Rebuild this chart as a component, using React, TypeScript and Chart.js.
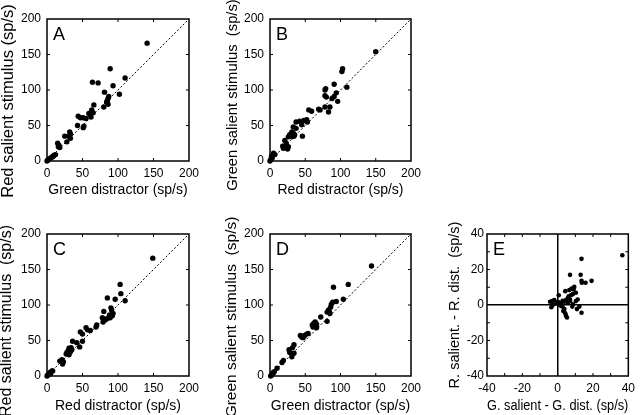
import React, { useEffect, useRef } from "react";
import { Chart, registerables } from "chart.js";

Chart.register(...registerables);

// ---------- DATA ----------
// Panel A: Green distractor (x) vs Red salient stimulus (y)
const A_X = [141, 89, 110, 64, 72, 93, 81, 102, 87, 86, 85, 84, 86, 80, 66, 63, 65, 59, 61, 62, 44, 47, 51, 55, 52, 51, 43, 32, 33, 31, 25, 33, 28, 15, 17, 18, 16, 10, 8, 6, 3, 1, 2, 4, 0, 12, 9];
const A_Y = [166, 130, 117, 111, 110, 106, 97, 94, 91, 88, 85, 83, 80, 76, 79, 72, 68, 67, 65, 62, 63, 61, 61, 60, 49, 47, 50, 41, 38, 35, 35, 32, 27, 25, 22, 19, 20, 8, 6, 5, 3, 1, 2, 3, 0, 9, 7];

// Panel B: Red distractor (x) vs Green salient stimulus (y)
const B_X = [150, 103, 102, 109, 91, 79, 78, 78, 80, 94, 91, 88, 96, 78, 85, 83, 69, 71, 55, 59, 37, 42, 48, 52, 53, 45, 46, 33, 37, 31, 33, 35, 31, 34, 26, 28, 21, 23, 26, 25, 21, 18, 19, 5, 7, 2, 1, 3, 0, 4];
const B_Y = [154, 130, 126, 104, 108, 102, 100, 92, 90, 96, 91, 88, 84, 76, 76, 69, 73, 72, 72, 70, 55, 56, 57, 58, 55, 51, 35, 48, 46, 41, 39, 37, 34, 35, 34, 37, 29, 25, 20, 17, 19, 21, 18, 11, 9, 6, 2, 4, 0, 8];

// Panel C: Red distractor (x) vs Red salient stimulus (y)
const C_X = [149, 103, 104, 110, 96, 85, 80, 90, 91, 93, 92, 89, 85, 78, 82, 79, 70, 69, 55, 57, 61, 47, 50, 50, 46, 36, 42, 34, 35, 30, 33, 28, 31, 27, 21, 23, 18, 22, 7, 5, 2, 4, 8, 0, 1, 31, 88];
const C_Y = [166, 129, 116, 106, 108, 110, 91, 96, 93, 88, 85, 82, 81, 82, 79, 76, 72, 69, 68, 65, 64, 62, 59, 49, 41, 49, 47, 40, 37, 36, 34, 33, 39, 31, 23, 20, 21, 17, 7, 3, 2, 5, 7, 0, 1, 30, 86];

// Panel D: Green distractor (x) vs Green salient stimulus (y)
const D_X = [144, 111, 90, 104, 94, 89, 87, 86, 83, 81, 84, 72, 81, 64, 62, 66, 63, 61, 66, 54, 52, 49, 45, 43, 34, 32, 27, 28, 31, 34, 19, 17, 10, 6, 4, 3, 5, 2, 1, 85, 47, 60];
const D_Y = [155, 129, 125, 108, 105, 104, 101, 97, 93, 90, 91, 83, 77, 76, 74, 73, 71, 69, 68, 60, 59, 57, 55, 57, 44, 40, 37, 33, 27, 32, 22, 19, 11, 6, 4, 2, 5, 1, 0, 88, 54, 72];

// Panel E: G. salient - G. dist. (x) vs R. salient - R. dist. (y)
const E_X = [36.6, 13.5, 7, 13, 13.5, 13.7, 15.8, 19.2, 9.4, 7.9, 6.6, 9, 4.3, 10.3, 7.5, 6.2, 8.6, 11.3, 10.3, 7, 5.6, 4.7, 3.8, 2.8, 0.6, -1.9, -3.2, -4.3, 0.1, 1.4, 2, -0.9, -2.8, -3.6, 2.8, 3.8, 3.2, 4.3, 4.7, 5.3, 8.6, 8.3, 10.9, 12.3, 13.5, 1.1, 2, 5.8, 7];
const E_Y = [28, 26, 17, 17, 13.6, 12.5, 12.5, 13.6, 10.2, 9.3, 8.4, 8.8, 7.8, 6.9, 5.5, 4.9, 6.1, 3.1, 2.2, 3.1, 3.7, 2.8, 1.8, 2.4, 5.5, 2.8, 2.2, 1.8, 1.8, 1.3, 0.9, 0.9, 0, -1.3, -1, -2.3, -3.4, -4.7, -6, -7, 0.4, -0.9, -2.3, -0.9, -4.4, 0, -0.6, 1.3, 2.2];

// Reference diagonal (identity line) endpoints
const DIAG = [0, 200];

// Tick labels
const TICKS_AD = [0, 50, 100, 150, 200];
const TICKS_E = [-40, -20, 0, 20, 40];
// Inward tick marks
const MARKS_AD = [50, 100, 150];
const MARKS_E = [-30, -20, -10, 10, 20, 30];

const FONT = '"Liberation Sans", Arial, Helvetica, sans-serif';

// ---------- PANELS (layout separate from data) ----------
type PanelCfg = {
  letter: string;
  xs: number[];
  ys: number[];
  xTitle: string;
  yTitle: string;
  min: number;
  max: number;
  ticks: number[];
  marks: number[];
  diag: boolean;
  zeroLines: boolean;
  r: number;
  box: [number, number, number, number];
  yAxisW: number;
  xAxisH: number;
  padR: number;
  padT: number;
  xTitlePad: number;
  yTickPad: number;
  yTitlePos: [number, number];
  yTitleSize: number;
};

const PANELS: PanelCfg[] = [
  {
    letter: "A", xs: A_X, ys: A_Y,
    xTitle: "Green distractor (sp/s)", yTitle: "Red salient stimulus (sp/s)",
    min: 0, max: 200, ticks: TICKS_AD, marks: MARKS_AD, diag: true, zeroLines: false, r: 2.7,
    box: [0, 0, 215, 209], yAxisW: 47, xAxisH: 48, padR: 26, padT: 19, xTitlePad: 10, yTickPad: 6,
    yTitlePos: [8, 101], yTitleSize: 16.5,
  },
  {
    letter: "B", xs: B_X, ys: B_Y,
    xTitle: "Red distractor (sp/s)", yTitle: "Green salient stimulus  (sp/s)",
    min: 0, max: 200, ticks: TICKS_AD, marks: MARKS_AD, diag: true, zeroLines: false, r: 2.7,
    box: [215, 0, 215, 209], yAxisW: 55, xAxisH: 48, padR: 19, padT: 19, xTitlePad: 10, yTickPad: 6,
    yTitlePos: [18, 95], yTitleSize: 14.8,
  },
  {
    letter: "C", xs: C_X, ys: C_Y,
    xTitle: "Red distractor (sp/s)", yTitle: "Red salient stimulus  (sp/s)",
    min: 0, max: 200, ticks: TICKS_AD, marks: MARKS_AD, diag: true, zeroLines: false, r: 2.7,
    box: [0, 209, 215, 206], yAxisW: 47, xAxisH: 39, padR: 26, padT: 25, xTitlePad: 0, yTickPad: 6,
    yTitlePos: [7, 112], yTitleSize: 16,
  },
  {
    letter: "D", xs: D_X, ys: D_Y,
    xTitle: "Green distractor (sp/s)", yTitle: "Green salient stimulus  (sp/s)",
    min: 0, max: 200, ticks: TICKS_AD, marks: MARKS_AD, diag: true, zeroLines: false, r: 2.7,
    box: [215, 209, 215, 206], yAxisW: 55, xAxisH: 39, padR: 19, padT: 25, xTitlePad: 0, yTickPad: 6,
    yTitlePos: [17, 108], yTitleSize: 15.5,
  },
  {
    letter: "E", xs: E_X, ys: E_Y,
    xTitle: "G. salient - G. dist. (sp/s)", yTitle: "R. salient. - R. dist.  (sp/s)",
    min: -40, max: 40, ticks: TICKS_E, marks: MARKS_E, diag: false, zeroLines: true, r: 2.3,
    box: [430, 209, 210, 206], yAxisW: 57, xAxisH: 39, padR: 11, padT: 25, xTitlePad: 0, yTickPad: 3,
    yTitlePos: [25, 96], yTitleSize: 14.5,
  },
];

// ---------- PLUGIN: frame, inward ticks, panel letter, y title ----------
const panelDeco = {
  id: "panelDeco",
  afterDatasetsDraw(chart: any, _args: any, opts: any) {
    const { ctx, chartArea: a } = chart;
    const xs = chart.scales.x;
    const ys = chart.scales.y;
    const L = 3;
    ctx.save();
    ctx.strokeStyle = "#000";
    ctx.lineWidth = 1;
    ctx.beginPath();
    for (const v of opts.marks as number[]) {
      const px = xs.getPixelForValue(v);
      ctx.moveTo(px, a.bottom);
      ctx.lineTo(px, a.bottom - L);
      ctx.moveTo(px, a.top);
      ctx.lineTo(px, a.top + L);
      const py = ys.getPixelForValue(v);
      ctx.moveTo(a.left, py);
      ctx.lineTo(a.left + L, py);
      ctx.moveTo(a.right, py);
      ctx.lineTo(a.right - L, py);
    }
    ctx.stroke();
    ctx.lineWidth = 1.5;
    ctx.strokeRect(a.left, a.top, a.right - a.left, a.bottom - a.top);

    ctx.fillStyle = "#000";
    ctx.font = `18px ${FONT}`;
    ctx.textAlign = "left";
    ctx.textBaseline = "alphabetic";
    ctx.fillText(opts.letter, a.left + 6, a.top + 21);

    ctx.translate(opts.yTitlePos[0], opts.yTitlePos[1]);
    ctx.rotate(-Math.PI / 2);
    ctx.textAlign = "center";
    ctx.textBaseline = "middle";
    ctx.font = `${opts.yTitleSize}px ${FONT}`;
    ctx.fillText(opts.yTitle, 0, 0);
    ctx.restore();
  },
};

function buildConfig(p: PanelCfg): any {
  const datasets: any[] = [
    {
      data: p.xs.map((x, i) => ({ x, y: p.ys[i] })),
      pointRadius: p.r,
      pointHoverRadius: p.r,
      pointBackgroundColor: "#000",
      pointBorderWidth: 0,
      showLine: false,
      clip: false,
    },
  ];
  if (p.diag) {
    datasets.push({
      data: [
        { x: DIAG[0], y: DIAG[0] },
        { x: DIAG[1], y: DIAG[1] },
      ],
      showLine: true,
      borderColor: "#000",
      borderWidth: 1,
      borderDash: [2, 2],
      pointRadius: 0,
      fill: false,
    });
  }
  const gridOpts = p.zeroLines
    ? {
        display: true,
        drawTicks: false,
        lineWidth: 1.5,
        color: (c: any) => (c.tick && c.tick.value === 0 ? "#000" : "rgba(0,0,0,0)"),
      }
    : { display: false, drawTicks: false };
  return {
    type: "scatter",
    data: { datasets },
    plugins: [panelDeco],
    options: {
      responsive: false,
      animation: false,
      devicePixelRatio: 1,
      events: [],
      layout: { autoPadding: false, padding: { left: 0, right: p.padR, top: p.padT, bottom: 0 } },
      plugins: {
        legend: { display: false },
        tooltip: { enabled: false },
        panelDeco: {
          marks: p.marks,
          letter: p.letter,
          yTitle: p.yTitle,
          yTitlePos: p.yTitlePos,
          yTitleSize: p.yTitleSize,
        },
      },
      scales: {
        x: {
          type: "linear",
          position: "bottom",
          min: p.min,
          max: p.max,
          afterBuildTicks: (s: any) => {
            s.ticks = p.ticks.map((v) => ({ value: v }));
          },
          afterFit: (s: any) => {
            s.height = p.xAxisH;
          },
          grid: gridOpts,
          border: { display: false },
          ticks: {
            color: "#000",
            font: { size: 12, family: FONT },
            padding: 5,
            maxRotation: 0,
            autoSkip: false,
          },
          title: {
            display: true,
            text: p.xTitle,
            color: "#000",
            font: { size: 14, family: FONT },
            padding: { top: 0, bottom: p.xTitlePad },
          },
        },
        y: {
          type: "linear",
          position: "left",
          min: p.min,
          max: p.max,
          afterBuildTicks: (s: any) => {
            s.ticks = p.ticks.map((v) => ({ value: v }));
          },
          afterFit: (s: any) => {
            s.width = p.yAxisW;
          },
          grid: gridOpts,
          border: { display: false },
          ticks: {
            color: "#000",
            font: { size: 12, family: FONT },
            padding: p.yTickPad,
            autoSkip: false,
          },
          title: { display: false },
        },
      },
    },
  };
}

function Panel({ cfg }: { cfg: PanelCfg }) {
  const ref = useRef<HTMLCanvasElement>(null);
  useEffect(() => {
    if (!ref.current) return;
    const chart = new Chart(ref.current, buildConfig(cfg));
    return () => chart.destroy();
  }, [cfg]);
  const [l, t, w, h] = cfg.box;
  return (
    <div style={{ position: "absolute", left: l, top: t, width: w, height: h }}>
      <canvas ref={ref} width={w} height={h} style={{ width: w, height: h, display: "block" }} />
    </div>
  );
}

export default function App() {
  return (
    <div
      style={{
        position: "absolute",
        left: 0,
        top: 0,
        width: 640,
        height: 415,
        background: "#fff",
        overflow: "hidden",
      }}
    >
      {PANELS.map((p) => (
        <Panel key={p.letter} cfg={p} />
      ))}
    </div>
  );
}
